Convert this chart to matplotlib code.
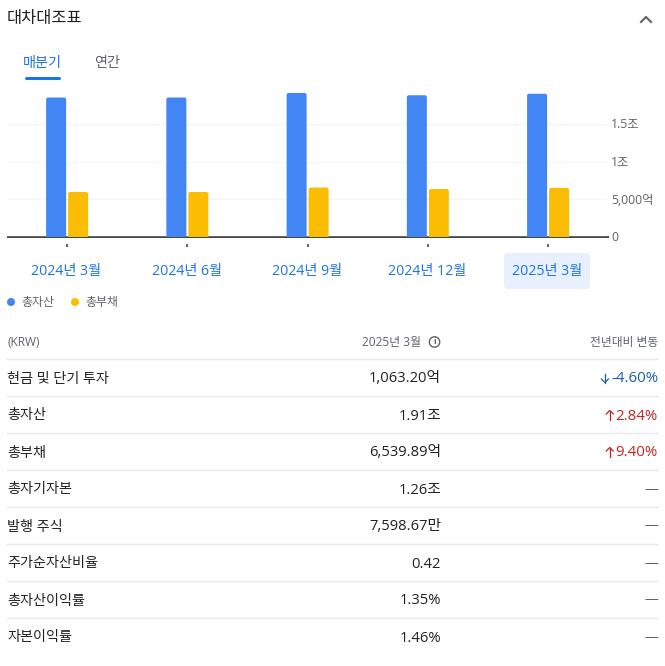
import matplotlib
matplotlib.use('Agg')
import matplotlib.pyplot as plt
from matplotlib.patches import FancyBboxPatch, Circle

plt.rcParams['font.family'] = ['Open Sans', 'Noto Sans CJK KR', 'DejaVu Sans']

# Chart data (in 조)
quarters = ['2024년 3월', '2024년 6월', '2024년 9월', '2024년 12월', '2025년 3월']
total_assets = [1.86, 1.86, 1.92, 1.89, 1.91]
total_liabilities = [0.60, 0.60, 0.66, 0.64, 0.654]
y_ticks = [0, 0.5, 1, 1.5]
y_tick_labels = ['0', '5,000억', '1조', '1.5조']

# Table data
row_names = ['현금 및 단기 투자', '총자산', '총부채', '총자기자본', '발행 주식',
             '주가순자산비율', '총자산이익률', '자본이익률']
row_values = ['1,063.20억', '1.91조', '6,539.89억', '1.26조', '7,598.67만',
              '0.42', '1.35%', '1.46%']
row_changes = ['-4.60%', '2.84%', '9.40%', '—', '—', '—', '—', '—']
row_dirs = [-1, 1, 1, 0, 0, 0, 0, 0]

BLUE = '#4285f4'
YELLOW = '#fbbc04'
LINK = '#1a73e8'
DARK = '#202124'
GREY = '#5f6368'
W, H = 665, 666

fig = plt.figure(figsize=(W / 100, H / 100), dpi=100)

# overlay in pixel coordinates for everything around the chart
bg = fig.add_axes([0, 0, 1, 1])
bg.set_xlim(0, W)
bg.set_ylim(H, 0)
bg.axis('off')

# bar chart
ax = fig.add_axes([7 / W, 1 - 237 / H, 600 / W, 150 / H])
ax.set_xlim(-0.5, 4.49)
ax.set_ylim(0, 2)
ax.patch.set_alpha(0)
for s in ax.spines.values():
    s.set_visible(False)
ax.set_xticks([])
ax.set_yticks(y_ticks)
ax.set_yticklabels([])
ax.tick_params(length=0)
ax.grid(axis='y', color='#f4f5f6', lw=1)
ax.set_axisbelow(True)

x_unit = 600 / 4.99
y_unit = 75
bar_w = 20 / x_unit
for i in range(len(quarters)):
    for val, off, col in [(total_assets[i], -11, BLUE), (total_liabilities[i], 11, YELLOW)]:
        x0 = i + off / x_unit - bar_w / 2
        # rounded top, the rounded bottom is clipped by the axes
        r = 2 / x_unit
        p = FancyBboxPatch((x0 + r, -0.1), bar_w - 2 * r, val + 0.1 - 2 / y_unit,
                           boxstyle='round,pad=%f,rounding_size=%f' % (r, r),
                           mutation_aspect=x_unit / y_unit, fc=col, ec=col, lw=0)
        ax.add_patch(p)

# baseline, ticks and axis labels
bg.plot([7, 609], [237, 237], color=DARK, lw=1.2, solid_capstyle='butt')
for i in range(len(quarters)):
    px = 67 + i * 120.25
    bg.plot([px, px], [243.5, 246.5], color=GREY, lw=1.4, solid_capstyle='butt')
for t, lab in zip(y_ticks, y_tick_labels):
    bg.text(611, 237.5 - t * y_unit, lab, fontsize=8.8, color=GREY, va='center', ha='left')

# header
bg.text(7, 19, '대차대조표', fontsize=11.8, color=DARK, va='center', ha='left', fontweight='medium')
bg.plot([641, 646, 651], [22, 17, 22], color=GREY, lw=1.5)
bg.text(42, 63, '매분기', fontsize=10.2, color=LINK, va='center', ha='center', fontweight='medium')
bg.text(107, 63, '연간', fontsize=10.2, color=GREY, va='center', ha='center', fontweight='medium')
bg.plot([26, 59], [77.5, 77.5], color=LINK, lw=2.2, solid_capstyle='round')

# period labels under the chart
bg.add_patch(FancyBboxPatch((506, 255), 82, 32, boxstyle='round,pad=2,rounding_size=4',
                            fc='#e8f0fe', ec='none'))
for i, q in enumerate(quarters):
    px = [66, 186.5, 307.5, 427, 547][i]
    bg.text(px, 271.5, q, fontsize=10.2, color=LINK, va='center', ha='center', fontweight='medium')

# legend
bg.add_patch(Circle((11, 302), 4, fc=BLUE, ec='none'))
bg.text(21, 302.5, '총자산', fontsize=8.6, color=GREY, va='center', ha='left')
bg.add_patch(Circle((75, 302), 4, fc=YELLOW, ec='none'))
bg.text(85, 302.5, '총부채', fontsize=8.6, color=GREY, va='center', ha='left')

# table header
bg.text(7, 342.5, '(KRW)', fontsize=8.6, color=GREY, va='center', ha='left')
bg.text(421, 342.5, '2025년 3월', fontsize=8.6, color=GREY, va='center', ha='right')
bg.add_patch(Circle((434.5, 342), 5.2, fc='none', ec=GREY, lw=1))
bg.text(434.5, 342, 'i', fontsize=6.5, color=GREY, va='center', ha='center', fontweight='bold')
bg.text(658, 342.5, '전년대비 변동', fontsize=8.5, color=GREY, va='center', ha='right')

# table rows
for i, (name, val, chg, d) in enumerate(zip(row_names, row_values, row_changes, row_dirs)):
    y = 378 + i * 37
    bg.plot([7, 658], [y - 19, y - 19], color='#e8eaed', lw=1)
    bg.text(7, y + 1, name, fontsize=10.2, color=DARK, va='center', ha='left', fontweight='medium')
    bg.text(441, y + 1, val, fontsize=10.6, color=DARK, va='center', ha='right', fontweight='medium')
    if d == 0:
        bg.text(658, y, chg, fontsize=10, color=GREY, va='center', ha='right')
        continue
    col = '#1a5ea8' if d < 0 else '#c5221f'
    t = bg.text(658, y + 1, chg, fontsize=10.8, color=col, va='center', ha='right', fontweight='medium')
    fig.canvas.draw()
    ax_x = t.get_window_extent().x0 - 6
    # thin arrow next to the percentage
    tip = y - 4.5 * d
    bg.plot([ax_x, ax_x], [y - 4.5, y + 4.5], color=col, lw=0.9)
    bg.plot([ax_x - 3.5, ax_x, ax_x + 3.5], [tip + 3.5 * d, tip, tip + 3.5 * d], color=col, lw=0.9)

fig.savefig('out.png', dpi=100)
